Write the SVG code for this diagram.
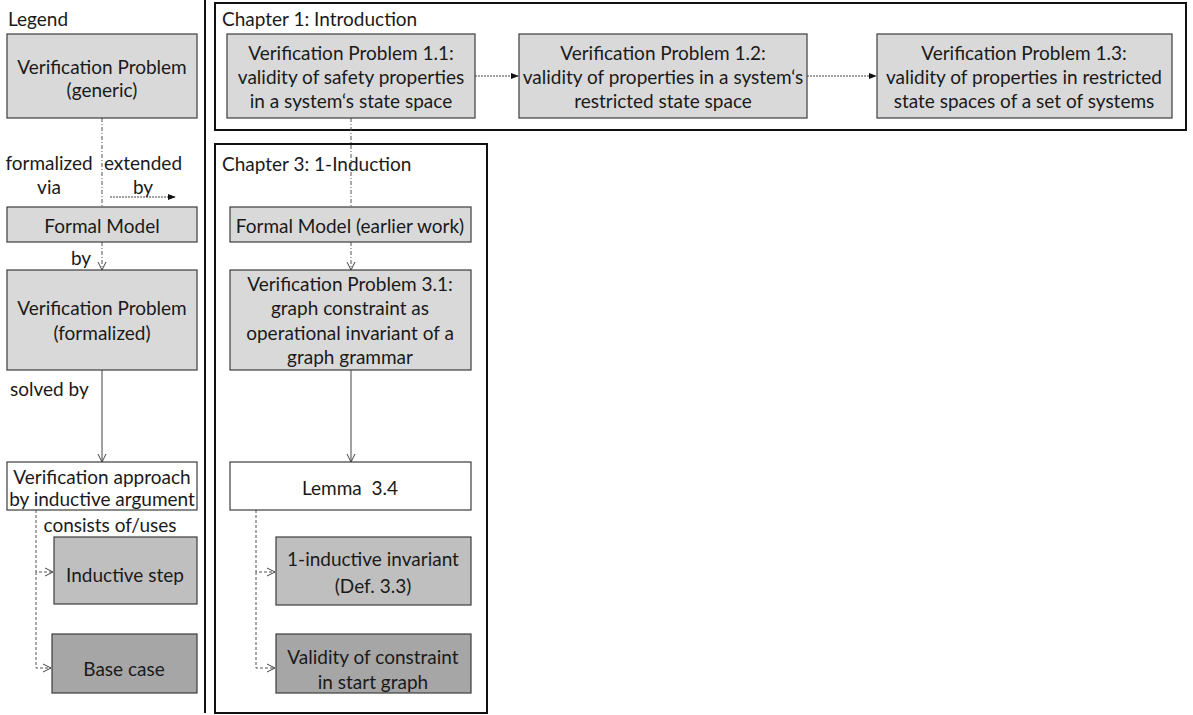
<svg xmlns="http://www.w3.org/2000/svg" width="1193" height="715" viewBox="0 0 1193 715">
  <style>
    text { font-family: Lato, "Open Sans", "Liberation Sans", sans-serif; font-size: 19px; fill: #1a1a1a; }
    .c { text-anchor: middle; dominant-baseline: central; }
    .l { dominant-baseline: central; }
    .box { fill: #d9d9d9; stroke: #3c3c3c; stroke-width: 1.2; }
    .white { fill: #ffffff; stroke: #3c3c3c; stroke-width: 1.2; }
    .mid { fill: #bfbfbf; stroke: #3c3c3c; stroke-width: 1.2; }
    .dark { fill: #a6a6a6; stroke: #3c3c3c; stroke-width: 1.2; }
    .frame { fill: none; stroke: #111; stroke-width: 2; }
    .formal { fill: none; stroke: #555; stroke-width: 1; stroke-dasharray: 4 2 1 2; }
    .extend { fill: none; stroke: #444; stroke-width: 1; stroke-dasharray: 2 1; }
    .solve { fill: none; stroke: #444; stroke-width: 1; }
    .uses { fill: none; stroke: #555; stroke-width: 1; stroke-dasharray: 3 2; }
  </style>
  <defs>
    <marker id="vee" viewBox="0 0 10 10" refX="9" refY="5" markerWidth="10" markerHeight="10" markerUnits="userSpaceOnUse" orient="auto">
      <path d="M1,1 L9,5 L1,9" fill="none" stroke="#444" stroke-width="1"/>
    </marker>
    <marker id="tri" viewBox="0 0 10 10" refX="9" refY="5" markerWidth="8" markerHeight="8" markerUnits="userSpaceOnUse" orient="auto">
      <path d="M0,1 L10,5 L0,9 Z" fill="#111"/>
    </marker>
  </defs>

  <!-- separator between legend and chapters -->
  <line x1="205" y1="0" x2="205" y2="713" stroke="#111" stroke-width="2"/>

  <!-- chapter frames -->
  <g id="chapter1">
    <rect class="frame" x="215" y="3" width="971" height="127"/>
    <text class="l" x="222" y="18">Chapter 1: Introduction</text>
  </g>
  <g id="chapter3">
    <rect class="frame" x="215" y="144" width="272" height="569"/>
    <text class="l" x="222" y="163">Chapter 3: 1-Induction</text>
  </g>

  <!-- connectors -->
  <g id="connectors">
    <!-- legend -->
    <line class="formal" x1="102" y1="118" x2="102" y2="207"/>
    <line class="extend" x1="110" y1="197" x2="175" y2="197" marker-end="url(#tri)"/>
    <line class="formal" x1="102" y1="242" x2="102" y2="270" marker-end="url(#vee)"/>
    <line class="solve" x1="102" y1="370" x2="102" y2="462" marker-end="url(#vee)"/>
    <polyline class="uses" points="36,510 36,572 53,572" marker-end="url(#vee)"/>
    <polyline class="uses" points="36,572 36,668 51,668" marker-end="url(#vee)"/>
    <!-- chapter 1 -->
    <line class="extend" x1="475" y1="76" x2="518" y2="76" marker-end="url(#tri)"/>
    <line class="extend" x1="807" y1="76" x2="876" y2="76" marker-end="url(#tri)"/>
    <!-- chapter 1 to chapter 3 -->
    <line class="formal" x1="351" y1="118" x2="351" y2="207"/>
    <line class="formal" x1="351" y1="242" x2="351" y2="270" marker-end="url(#vee)"/>
    <line class="solve" x1="351" y1="370" x2="351" y2="462" marker-end="url(#vee)"/>
    <polyline class="uses" points="256,510 256,572 275,572" marker-end="url(#vee)"/>
    <polyline class="uses" points="256,572 256,668 275,668" marker-end="url(#vee)"/>
  </g>

  <!-- legend -->
  <text class="l" x="8" y="18">Legend</text>
  <g id="legend-problem">
    <rect class="box" x="7" y="34" width="190" height="84"/>
    <text class="c" x="102" y="66">Verification Problem</text>
    <text class="c" x="102" y="89">(generic)</text>
  </g>
  <text class="c" x="49" y="162">formalized</text>
  <text class="c" x="49" y="186">via</text>
  <text class="c" x="143" y="162">extended</text>
  <text class="c" x="143" y="186">by</text>
  <g id="legend-model">
    <rect class="box" x="7" y="207" width="190" height="35"/>
    <text class="c" x="102" y="225">Formal Model</text>
  </g>
  <text class="c" x="81" y="257">by</text>
  <g id="legend-formalized">
    <rect class="box" x="7" y="270" width="190" height="100"/>
    <text class="c" x="102" y="307">Verification Problem</text>
    <text class="c" x="102" y="332">(formalized)</text>
  </g>
  <text class="l" x="10" y="388">solved by</text>
  <g id="legend-approach">
    <rect class="white" x="7" y="462" width="190" height="48"/>
    <text class="c" x="102" y="476">Verification approach</text>
    <text class="c" x="102" y="498">by inductive argument</text>
  </g>
  <text class="c" x="110" y="524">consists of/uses</text>
  <g id="legend-step">
    <rect class="mid" x="54" y="537" width="143" height="67"/>
    <text class="c" x="125" y="574">Inductive step</text>
  </g>
  <g id="legend-base">
    <rect class="dark" x="52" y="634" width="145" height="59"/>
    <text class="c" x="124" y="668">Base case</text>
  </g>

  <!-- chapter 1 nodes -->
  <g id="vp11">
    <rect class="box" x="227" y="34" width="248" height="84"/>
    <text class="c" x="351" y="52">Verification Problem 1.1:</text>
    <text class="c" x="351" y="76">validity of safety properties</text>
    <text class="c" x="351" y="100">in a system‘s state space</text>
  </g>
  <g id="vp12">
    <rect class="box" x="519" y="34" width="288" height="84"/>
    <text class="c" x="663" y="52">Verification Problem 1.2:</text>
    <text class="c" x="663" y="76">validity of properties in a system‘s</text>
    <text class="c" x="663" y="100">restricted state space</text>
  </g>
  <g id="vp13">
    <rect class="box" x="877" y="34" width="295" height="84"/>
    <text class="c" x="1024" y="52">Verification Problem 1.3:</text>
    <text class="c" x="1024" y="76">validity of properties in restricted</text>
    <text class="c" x="1024" y="100">state spaces of a set of systems</text>
  </g>

  <!-- chapter 3 nodes -->
  <g id="model-earlier">
    <rect class="box" x="230" y="207" width="241" height="35"/>
    <text class="c" x="350" y="225">Formal Model (earlier work)</text>
  </g>
  <g id="vp31">
    <rect class="box" x="230" y="270" width="241" height="100"/>
    <text class="c" x="350" y="283">Verification Problem 3.1:</text>
    <text class="c" x="350" y="307">graph constraint as</text>
    <text class="c" x="350" y="332">operational invariant of a</text>
    <text class="c" x="350" y="356">graph grammar</text>
  </g>
  <g id="lemma34">
    <rect class="white" x="230" y="462" width="241" height="48"/>
    <text class="c" x="350" y="487">Lemma&#160; 3.4</text>
  </g>
  <g id="invariant">
    <rect class="mid" x="276" y="537" width="195" height="68"/>
    <text class="c" x="373" y="558">1-inductive invariant</text>
    <text class="c" x="373" y="585">(Def. 3.3)</text>
  </g>
  <g id="start-graph">
    <rect class="dark" x="276" y="634" width="195" height="59"/>
    <text class="c" x="373" y="656">Validity of constraint</text>
    <text class="c" x="373" y="681">in start graph</text>
  </g>
</svg>
